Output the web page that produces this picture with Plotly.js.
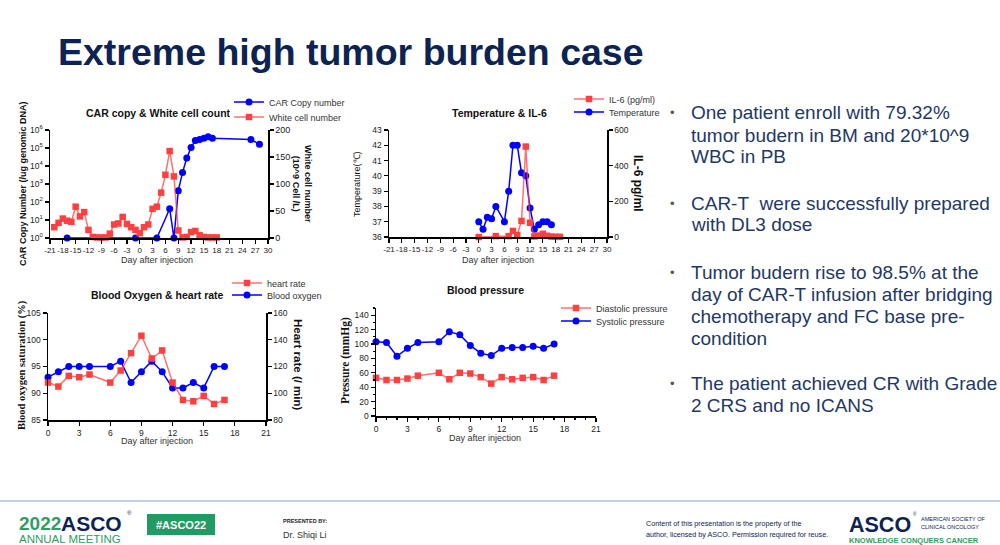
<!DOCTYPE html>
<html><head><meta charset="utf-8">
<script src="https://cdn.plot.ly/plotly-3.0.1.min.js"></script>
<style>html,body{margin:0;padding:0;background:#fff;overflow:hidden}#chart{width:1000px;height:545px}</style>
</head><body><div id="chart"></div>
<script>
// ---------- DATA ----------
// Chart 1: CAR copy & White cell count
const carDays = [-17, -1, 4, 7, 8, 9, 10, 11, 12, 13, 14, 15, 16, 17, 26, 28];
const carCopies = [1, 1, 1, 42, 1, 420, 4300, 28000, 105000, 260000, 300000, 350000, 420000, 350000, 300000, 160000];
const wbcDays = [-20,-19,-18,-17,-16,-15,-14,-13,-12,-11,-10,-9,-8,-7,-6,-5,-4,-3,-2,-1,0,1,2,3,4,5,6,7,8,9,10,11,12,13,14,15,16,17,18];
const wbcCount = [20,28,36,32,30,58,40,48,15,2,1,1,1,8,25,27,39,26,20,15,9,20,25,54,58,84,117,161,114,14,1,2,11,13,5,2,1,1,1];
// Chart 2: Temperature & IL-6
const tempDays = [0,1,2,3,4,6,7,8,9,10,11,12,13,14,15,16,17];
const temperature = [37,36.5,37.3,37.2,38,37,39,42,42,40.2,40,37.9,36.5,36.8,37,37,36.8];
const il6Days = [0,4,7,8,9,10,11,12,13,14,15,16,17,18,19];
const il6 = [0,5,5,34,11,90,507,80,3,8,18,7,2,1,1];
// Chart 3: Blood oxygen & heart rate
const vitalDays = [0,1,2,3,4,6,7,8,9,10,11,12,13,14,15,16,17];
const bloodOxygen = [93,94,95,95,95,95,96,92,94,96,94,91,91,92,91,95,95];
const heartRate = [108,105,113,112,114,108,117,130,143,126,132,108,95,94,98,92,95];
// Chart 4: Blood pressure
const systolic = [103,102,83,94,102,103,117,113,98,87,84,94,95,95,97,94,100];
const diastolic = [53,50,50,52,56,60,51,60,59,54,45,54,51,53,54,50,56];
// Tick labels
const longDayTicks = [-21,-18,-15,-12,-9,-6,-3,0,3,6,9,12,15,18,21,24,27,30];
const longDayText = ['-21','-18','-15','-12','-9','-6','-3','0','3','6','9','12','15','18','21','24','27','30'];
const logTickVals = [1,10,100,1000,10000,100000,1000000];
const logTickText = ['10<sup>0</sup>','10<sup>1</sup>','10<sup>2</sup>','10<sup>3</sup>','10<sup>4</sup>','10<sup>5</sup>','10<sup>6</sup>'];
// Slide text
const slideTitle = 'Extreme high tumor burden case';
const bullets = [
  ['One patient enroll with 79.32%','tumor budern in BM and 20*10^9','WBC in PB'],
  ['CAR-T\u00a0 were successfully prepared','with DL3 dose'],
  ['Tumor budern rise to 98.5% at the','day of CAR-T infusion after bridging','chemotherapy and FC base pre-','condition'],
  ['The patient achieved CR with Grade','2 CRS and no ICANS']
];

// ---------- STYLE ----------
const W = 1000, H = 545;
const fx = p => p / W;
const fy = p => 1 - p / H;
const SANS = 'Liberation Sans, Arial, sans-serif';
const SERIF = 'Liberation Serif, Times New Roman, serif';
const BLUE = 'rgb(0,0,255)';
const RED = 'rgb(255,64,64)';
const REDL = 'rgba(255,64,64,0.75)';
const NAVY = '#0c2354';
const TXT = '#1f3864';

function ax(extra) {
  return Object.assign({
    showline: true, linecolor: '#000', linewidth: 1.5,
    ticks: 'outside', ticklen: 4, tickwidth: 1.2, tickcolor: '#000',
    showgrid: false, zeroline: false, fixedrange: true, tickangle: 0,
    tickfont: {family: SANS, size: 8.5, color: '#222'}
  }, extra);
}
function leg(x, y) {
  return {x: fx(x), y: fy(y), xanchor: 'left', yanchor: 'middle', bgcolor: 'rgba(0,0,0,0)',
    borderwidth: 0, font: {family: SANS, size: 9, color: '#333'}, itemwidth: 30,
    tracegroupgap: 0, itemclick: false, itemdoubleclick: false};
}
function blueTrace(x, y, xa, ya, name, lg) {
  return {x, y, xaxis: xa, yaxis: ya, name, legend: lg, type: 'scatter', mode: 'lines+markers', cliponaxis: false,
    line: {color: BLUE, width: 1.5}, marker: {color: BLUE, size: 7, symbol: 'circle'}};
}
function redTrace(x, y, xa, ya, name, lg) {
  return {x, y, xaxis: xa, yaxis: ya, name, legend: lg, type: 'scatter', mode: 'lines+markers', cliponaxis: false,
    line: {color: REDL, width: 1.5}, marker: {color: RED, size: 6.5, symbol: 'square'}};
}

const traces = [
  blueTrace(carDays, carCopies, 'x', 'y', 'CAR Copy number', 'legend'),
  redTrace(wbcDays, wbcCount, 'x', 'y2', 'White cell number', 'legend2'),
  redTrace(il6Days, il6, 'x2', 'y4', 'IL-6 (pg/ml)', 'legend3'),
  blueTrace(tempDays, temperature, 'x2', 'y3', 'Temperature', 'legend4'),
  redTrace(vitalDays, heartRate, 'x3', 'y6', 'heart rate', 'legend5'),
  blueTrace(vitalDays, bloodOxygen, 'x3', 'y5', 'Blood oxygen', 'legend6'),
  redTrace(vitalDays, diastolic, 'x4', 'y7', 'Diastolic pressure', 'legend7'),
  blueTrace(vitalDays, systolic, 'x4', 'y7', 'Systolic pressure', 'legend8')
];

function ann(x, y, text, o) {
  o = o || {};
  return {xref: 'paper', yref: 'paper', x: fx(x), y: fy(y), text, showarrow: false,
    xanchor: o.xa || 'center', yanchor: o.ya || 'middle', textangle: o.angle || 0,
    font: {family: o.family || SANS, size: o.size || 9, color: o.color || '#111'},
    borderpad: 0};
}

const annotations = [
  ann(57, 52, '<b>' + slideTitle + '</b>', {xa: 'left', size: 37.5, color: NAVY}),
  // chart titles
  ann(158, 113, '<b>CAR copy & White cell count</b>', {size: 10.5, color: '#111'}),
  ann(499, 113, '<b>Temperature & IL-6</b>', {size: 10.5, color: '#111'}),
  ann(157, 295, '<b>Blood Oxygen & heart rate</b>', {size: 10.5, color: '#111'}),
  ann(485, 290, '<b>Blood pressure</b>', {size: 10.5, color: '#111'}),
  // axis titles
  ann(157, 260, 'Day after injection', {size: 9, color: '#333'}),
  ann(498, 260, 'Day after injection', {size: 9, color: '#333'}),
  ann(157, 441, 'Day after injection', {size: 9, color: '#333'}),
  ann(485, 438, 'Day after injection', {size: 9, color: '#333'}),
  ann(23, 184, '<b>CAR Copy Number (/ug genomic DNA)</b>', {size: 9, angle: -90}),
  ann(302, 184, '<b>White cell number<br>(10^9 Cell /L)</b>', {size: 9, angle: 90}),
  ann(357, 184, 'Temperature(\u2103)', {size: 9, angle: -90}),
  ann(638, 183, '<b>IL-6 pg/ml</b>', {size: 12, angle: 90}),
  ann(22, 365, '<b>Blood oxygen saturation (%)</b>', {size: 10.5, angle: -90, family: SERIF}),
  ann(298, 365, '<b>Heart rate (/ min)</b>', {size: 11.5, angle: 90}),
  ann(345, 361, '<b>Pressure (mmHg)</b>', {size: 11.5, angle: -90, family: SERIF}),
  // footer
  ann(18, 523, '<b>2022</b>', {xa: 'left', size: 19, color: '#2f9e62'}),
  ann(60, 523, '<b>ASCO</b>', {xa: 'left', size: 21, color: NAVY}),
  ann(126, 513, '\u00ae', {xa: 'left', size: 6, color: NAVY}),
  ann(18, 539, 'ANNUAL MEETING', {xa: 'left', size: 11.5, color: '#2f9e62'}),
  ann(181, 525, '<b>#ASCO22</b>', {size: 11, color: '#ffffff'}),
  ann(282, 521, '<b>PRESENTED BY:</b>', {xa: 'left', size: 5.5, color: '#222'}),
  ann(282, 535, 'Dr. Shiqi Li', {xa: 'left', size: 9, color: '#333'}),
  ann(645, 523, 'Content of this presentation is the property of the', {xa: 'left', size: 7.2, color: NAVY}),
  ann(645, 534, 'author, licensed by ASCO. Permission required for reuse.', {xa: 'left', size: 7.2, color: NAVY}),
  ann(848, 525, '<b>ASCO</b>', {xa: 'left', size: 21.5, color: NAVY}),
  ann(912, 514, '\u00ae', {xa: 'left', size: 4.5, color: NAVY}),
  ann(920, 519, 'AMERICAN SOCIETY OF', {xa: 'left', size: 5.5, color: NAVY}),
  ann(920, 527, 'CLINICAL ONCOLOGY', {xa: 'left', size: 5.5, color: NAVY}),
  ann(848, 540, '<b>KNOWLEDGE CONQUERS CANCER</b>', {xa: 'left', size: 7.5, color: '#2f9e62'})
];

// bullets
const bulletStarts = [113, 203, 272, 383];
const lineGap = 22;
bullets.forEach((lines, i) => {
  annotations.push(ann(672, bulletStarts[i], '\u2022', {size: 13, color: '#555'}));
  lines.forEach((t, j) => {
    annotations.push(ann(690, bulletStarts[i] + j * lineGap, t, {xa: 'left', size: 19, color: TXT}));
  });
});

const shapes = [
  {type: 'line', xref: 'paper', yref: 'paper', x0: 0, x1: 1, y0: fy(501), y1: fy(501), line: {color: '#c5d0e8', width: 2}},
  {type: 'rect', xref: 'paper', yref: 'paper', x0: fx(147), x1: fx(215), y0: fy(535), y1: fy(514), fillcolor: '#1f9b63', line: {width: 0}}
];

const layout = {
  width: W, height: H, autosize: false,
  margin: {l: 0, r: 0, t: 0, b: 0},
  paper_bgcolor: '#fff', plot_bgcolor: 'rgba(0,0,0,0)',
  showlegend: true,
  // chart 1
  xaxis: ax({domain: [fx(50), fx(268)], range: [-21, 30], tickvals: longDayTicks, ticktext: longDayText, anchor: 'y',
    tickfont: {family: SANS, size: 8, color: '#222'}}),
  yaxis: ax({domain: [fy(238), fy(130)], type: 'log', range: [0, 6], tickvals: logTickVals, ticktext: logTickText, anchor: 'x'}),
  yaxis2: ax({overlaying: 'y', side: 'right', range: [0, 200], dtick: 50, anchor: 'x', tickfont: {family: SANS, size: 9, color: '#222'}}),
  // chart 2
  xaxis2: ax({domain: [fx(389), fx(607)], range: [-21, 30], tickvals: longDayTicks, ticktext: longDayText, anchor: 'y3',
    tickfont: {family: SANS, size: 8, color: '#222'}}),
  yaxis3: ax({domain: [fy(237), fy(130)], range: [36, 43], dtick: 1, anchor: 'x2'}),
  yaxis4: ax({overlaying: 'y3', side: 'right', range: [0, 600], dtick: 200, anchor: 'x2'}),
  // chart 3
  xaxis3: ax({domain: [fx(48), fx(266)], range: [0, 21], dtick: 3, anchor: 'y5'}),
  yaxis5: ax({domain: [fy(420), fy(313)], range: [85, 105], dtick: 5, anchor: 'x3'}),
  yaxis6: ax({overlaying: 'y5', side: 'right', range: [80, 160], dtick: 20, anchor: 'x3'}),
  // chart 4
  xaxis4: ax({domain: [fx(376), fx(596)], range: [0, 21], dtick: 3, anchor: 'y7',
    minor: {dtick: 1, ticklen: 2, tickcolor: '#000', ticks: 'outside'}}),
  yaxis7: ax({domain: [fy(416), fy(308)], range: [0, 150], tickvals: [0,20,40,60,80,100,120,140], anchor: 'x4',
    minor: {dtick: 10, ticklen: 2, tickcolor: '#000', ticks: 'outside'}}),
  legend: leg(229, 102), legend2: leg(229, 117),
  legend3: leg(569, 99), legend4: leg(569, 112),
  legend5: leg(227, 283), legend6: leg(227, 295),
  legend7: leg(556, 308), legend8: leg(556, 321),
  annotations, shapes
};

Plotly.newPlot('chart', traces, layout, {displayModeBar: false, staticPlot: true});
</script></body></html>
